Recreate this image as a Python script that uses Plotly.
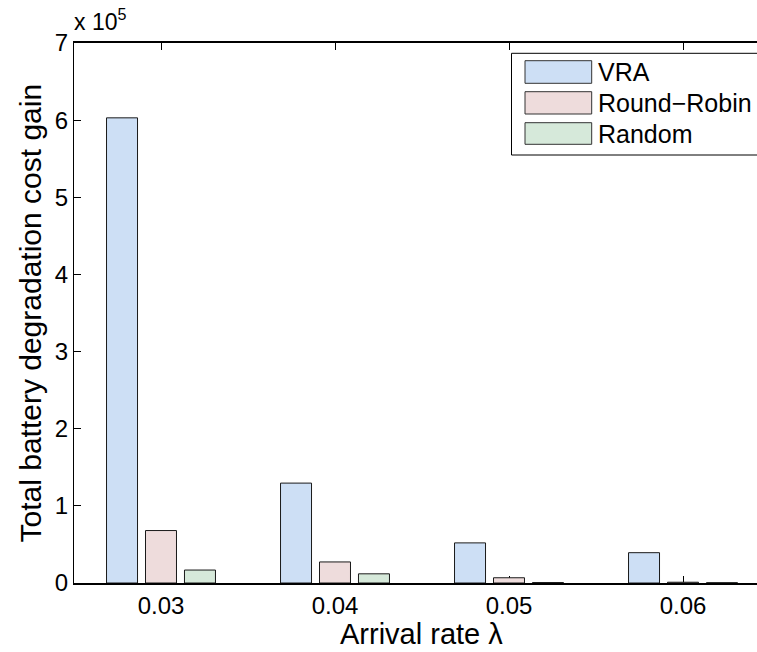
import plotly.graph_objects as go

# Arrival rates (x categories) and total battery degradation cost gain per policy
arrival_rates = [0.03, 0.04, 0.05, 0.06]
vra_gain = [603000, 129500, 52000, 39300]
round_robin_gain = [68000, 27300, 6800, 1000]
random_gain = [16800, 11900, 600, 400]

series_names = ["VRA", "Round\u2212Robin", "Random"]
series_values = [vra_gain, round_robin_gain, random_gain]
series_colors = ["#cddff5", "#eedcdc", "#d6e9da"]

y_tick_vals = [0, 100000, 200000, 300000, 400000, 500000, 600000, 700000]
y_tick_text = ["0", "1", "2", "3", "4", "5", "6", "7"]
x_tick_text = ["0.03", "0.04", "0.05", "0.06"]

FONT = "Liberation Sans, Arial, Helvetica, sans-serif"

fig = go.Figure()
for name, vals, col in zip(series_names, series_values, series_colors):
    fig.add_trace(go.Bar(
        x=arrival_rates, y=vals, name=name,
        marker=dict(color=col, line=dict(color="#1a1a1a", width=1)),
        showlegend=False,
    ))

# Pixel helpers for the plot area (74..757 x 43..583)
W, H = 683.0, 540.0
def px(x):
    return (x - 74) / W
def py(y):
    return (583 - y) / H

# Hand-drawn legend box with wide swatches
shapes = [dict(type="rect", xref="paper", yref="paper",
               x0=px(511.5), x1=px(770), y0=py(155), y1=py(53.3),
               line=dict(color="black", width=1), fillcolor="white", layer="above")]
annotations = []
sw_rows = [(60.7, 83.3), (91.7, 114.0), (122.7, 144.3)]
for (top, bot), name, col in zip(sw_rows, series_names, series_colors):
    shapes.append(dict(type="rect", xref="paper", yref="paper",
                       x0=px(525), x1=px(591.7), y0=py(bot), y1=py(top),
                       line=dict(color="#333333", width=1), fillcolor=col, layer="above"))
    annotations.append(dict(xref="paper", yref="paper", x=px(596), y=py((top + bot) / 2),
                            text=name, showarrow=False, xanchor="left", yanchor="middle",
                            font=dict(family=FONT, size=25, color="black")))

# Axis exponent label
annotations.append(dict(xref="paper", yref="paper", x=px(72), y=py(37),
                        text="x 10<sup>5</sup>", showarrow=False,
                        xanchor="left", yanchor="bottom",
                        font=dict(family=FONT, size=23, color="black")))

# Axis titles
annotations.append(dict(xref="paper", yref="paper", x=px(421.5), y=py(634),
                        text="Arrival rate \u03bb", showarrow=False,
                        xanchor="center", yanchor="middle",
                        font=dict(family=FONT, size=29, color="black")))
annotations.append(dict(xref="paper", yref="paper", x=px(30), y=py(313.5),
                        text="Total battery degradation cost gain", showarrow=False,
                        textangle=-90, xanchor="center", yanchor="middle",
                        font=dict(family=FONT, size=30, color="black")))

fig.update_layout(
    width=757, height=652,
    margin=dict(l=74, r=0, t=43, b=69),
    paper_bgcolor="white", plot_bgcolor="white",
    barmode="group", bargap=0.328, bargroupgap=0.205,
    font=dict(family=FONT, color="black"),
    shapes=shapes, annotations=annotations,
    xaxis=dict(
        range=[0.025, 0.064253],
        tickvals=arrival_rates, ticktext=x_tick_text,
        ticks="inside", ticklen=7, tickwidth=1, tickcolor="black",
        showline=True, linecolor="black", linewidth=1.5, mirror="allticks",
        showgrid=False, zeroline=False, layer="below traces",
        tickfont=dict(family=FONT, size=24),
    ),
    yaxis=dict(
        range=[0, 700000],
        tickvals=y_tick_vals, ticktext=y_tick_text,
        ticks="inside", ticklen=7, tickwidth=1, tickcolor="black",
        showline=True, linecolor="black", linewidth=1.2, mirror=False,
        showgrid=False, zeroline=False,
        tickfont=dict(family=FONT, size=24),
    ),
)

fig.write_html("out.html")
